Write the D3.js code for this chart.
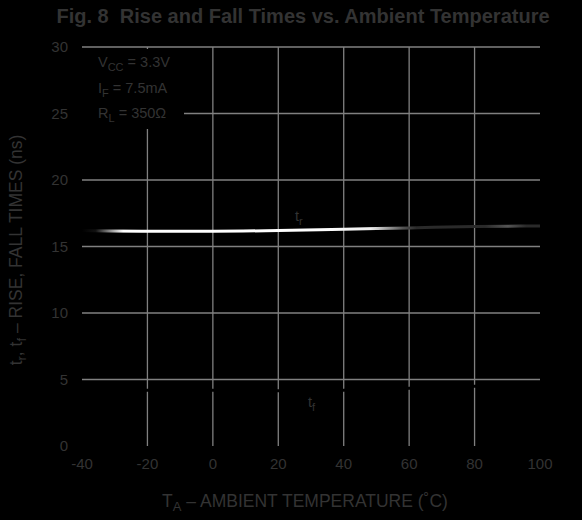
<!DOCTYPE html>
<html>
<head>
<meta charset="utf-8">
<script src="https://cdn.jsdelivr.net/npm/d3@7"></script>
<style>
  html, body { margin: 0; padding: 0; background: #000; }
  svg { display: block; }
  text { font-family: "Liberation Sans", Arial, Helvetica, sans-serif; white-space: pre; }
</style>
</head>
<body>
<script>
// ---- data ----
const temperatures = [-40, -20, 0, 20, 40, 60, 80, 100];
const riseTimes = [16.2, 16.15, 16.15, 16.2, 16.3, 16.4, 16.5, 16.55];
const fallTimes = [4.1, 4.2, 4.2, 4.15, 4.2, 4.35, 4.5, 4.6];
const xTicks = [-40, -20, 0, 20, 40, 60, 80, 100];
const yTicks = [0, 5, 10, 15, 20, 25, 30];
const legendLines = [["V", "CC", " = 3.3V"], ["I", "F", " = 7.5mA"], ["R", "L", " = 350Ω"]];

const W = 582, H = 520;
const textColor = "#333";
const gridColor = "#808080";

const svg = d3.select("body").append("svg").attr("width", W).attr("height", H);
svg.append("rect").attr("width", W).attr("height", H).attr("fill", "#000");

const x = d3.scaleLinear().domain([-40, 100]).range([82, 540]);
const y = d3.scaleLinear().domain([0, 30]).range([446, 47]);

// title
svg.append("text").attr("x", 303).attr("y", 23).attr("text-anchor", "middle")
  .attr("font-size", 20).attr("font-weight", "bold").attr("fill", textColor)
  .attr("xml:space", "preserve")
  .text("Fig. 8  Rise and Fall Times vs. Ambient Temperature");

// horizontal gridlines
svg.append("g").selectAll("line").data(yTicks.filter(d => d > 0)).join("line")
  .attr("x1", x(-40)).attr("x2", x(100))
  .attr("y1", d => y(d)).attr("y2", d => y(d))
  .attr("stroke", gridColor).attr("stroke-width", 1.3);

// vertical gridlines
svg.append("g").selectAll("line").data(xTicks.filter(d => d > -40 && d < 100)).join("line")
  .attr("x1", d => x(d)).attr("x2", d => x(d))
  .attr("y1", y(30)).attr("y2", y(0))
  .attr("stroke", gridColor).attr("stroke-width", 1.3);

// y tick labels
svg.append("g").selectAll("text").data(yTicks).join("text")
  .attr("x", 68).attr("y", d => y(d) + 5).attr("text-anchor", "end")
  .attr("font-size", 15).attr("fill", textColor).text(d => d);

// x tick labels
svg.append("g").selectAll("text").data(xTicks).join("text")
  .attr("x", d => x(d)).attr("y", 469).attr("text-anchor", "middle")
  .attr("font-size", 15).attr("fill", textColor).text(d => d);

// axis titles
const xt = svg.append("text").attr("x", 305).attr("y", 507).attr("text-anchor", "middle")
  .attr("font-size", 17.5).attr("fill", textColor);
xt.append("tspan").text("T");
xt.append("tspan").attr("dy", 4).attr("font-size", 13).text("A");
xt.append("tspan").attr("dy", -4).text(" – AMBIENT TEMPERATURE (˚C)");

const yt = svg.append("text").attr("transform", "translate(22,250) rotate(-90)")
  .attr("text-anchor", "middle").attr("font-size", 17.5).attr("fill", textColor);
yt.append("tspan").text("t");
yt.append("tspan").attr("dy", 4).attr("font-size", 13).text("r");
yt.append("tspan").attr("dy", -4).text(", t");
yt.append("tspan").attr("dy", 4).attr("font-size", 13).text("f");
yt.append("tspan").attr("dy", -4).text(" – RISE, FALL TIMES (ns)");

// legend background box
svg.append("rect").attr("x", x(-40)).attr("y", 49).attr("width", 102).attr("height", 80).attr("fill", "#000");

const leg = svg.append("g").selectAll("text").data(legendLines).join("text")
  .attr("x", 98).attr("y", (d, i) => 67 + i * 25.5)
  .attr("font-size", 14.5).attr("fill", textColor);
leg.append("tspan").text(d => d[0]);
leg.append("tspan").attr("dy", 4).attr("font-size", 11).text(d => d[1]);
leg.append("tspan").attr("dy", -4).text(d => d[2]);

// gradient for rise time line
const defs = svg.append("defs");
const grad = defs.append("linearGradient").attr("id", "trGrad")
  .attr("gradientUnits", "userSpaceOnUse")
  .attr("x1", x(-40)).attr("x2", x(100)).attr("y1", 0).attr("y2", 0);
[[0, "#000"], [0.03, "#111"], [0.09, "#fff"], [0.52, "#fff"], [0.63, "#eee"], [0.7, "#555"], [0.73, "#2a2a2a"],
 [0.88, "#2a2a2a"], [0.93, "#555"], [0.97, "#2a2a2a"], [1, "#2a2a2a"]]
  .forEach(([o, c]) => grad.append("stop").attr("offset", o).attr("stop-color", c));

const line = d3.line().x((d, i) => x(temperatures[i])).y(d => y(d)).curve(d3.curveMonotoneX);

// fall time curve (drawn in black)
svg.append("path").datum(fallTimes).attr("d", line)
  .attr("fill", "none").attr("stroke", "#000").attr("stroke-width", 3);

// rise time curve
svg.append("path").datum(riseTimes).attr("d", line)
  .attr("fill", "none").attr("stroke", "url(#trGrad)").attr("stroke-width", 3);

// curve labels
const tr = svg.append("text").attr("x", 295).attr("y", 221).attr("font-size", 14.5).attr("fill", textColor);
tr.append("tspan").text("t");
tr.append("tspan").attr("dy", 4).attr("font-size", 11).text("r");

const tf = svg.append("text").attr("x", 308).attr("y", 407).attr("font-size", 14.5).attr("fill", textColor);
tf.append("tspan").text("t");
tf.append("tspan").attr("dy", 4).attr("font-size", 11).text("f");
</script>
</body>
</html>
